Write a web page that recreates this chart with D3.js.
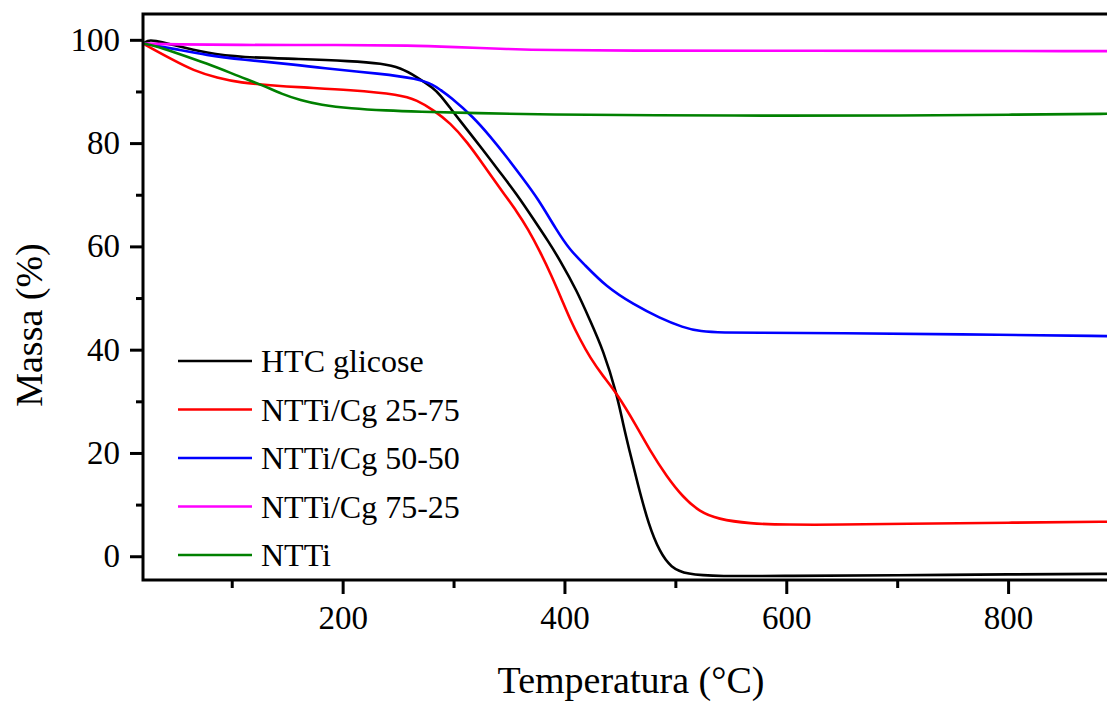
<!DOCTYPE html>
<html>
<head>
<meta charset="utf-8">
<script src="https://cdn.jsdelivr.net/npm/d3@7"></script>
<style>
	body { margin: 0; background: #fff; }
	text { font-family: "Liberation Serif", "Times New Roman", serif; }
</style>
</head>
<body>
<script>
// temperature (°C), mass (%)
var htcGlicose = [[20,99.2],[24,99.9],[30,99.9],[47,99],[78,97.4],[108,96.6],[162,96.3],[207,95.9],[236,95.4],[252,94.6],[267,92.8],[282,90.6],[288,89.3],[297,86.8],[303,85.1],[327,78.6],[342,74.3],[357,70.1],[372,65.3],[386,60.8],[396,57.3],[411,51.5],[423,45.7],[435,39.9],[447,31.6],[453,25.5],[458,21],[466,14],[476,6],[486,0.8],[496,-2.2],[510,-3.5],[538,-3.9],[600,-3.8],[700,-3.7],[800,-3.5],[900,-3.4]];
var cg2575 = [[20,99.4],[22,99],[47,96.1],[65,94.1],[87,92.6],[108,91.7],[135,91.2],[162,90.8],[207,90.3],[252,89.4],[267,88.3],[282,86.4],[297,83.9],[312,80.3],[327,75.8],[344,70.6],[357,66.8],[367,63.4],[378,59],[388,54.5],[398,49.5],[405,45.9],[414,42],[423,38.5],[435,34.8],[447,31.6],[465,25.2],[477,20.5],[492,15.5],[507,11.4],[522,8.6],[538,7.2],[567,6.3],[600,6.1],[650,6.1],[703,6.3],[800,6.5],[900,6.7]];
var cg5050 = [[20,99.3],[47,98.3],[78,97],[108,96.2],[162,95.1],[177,94.6],[236,93.4],[267,92.5],[282,91.3],[288,90.3],[297,89],[318,85],[333,81.3],[348,77.3],[362,73.3],[376,69.3],[393,63.1],[405,59.3],[417,56.7],[438,52.1],[462,48.8],[486,46.1],[507,44.3],[522,43.5],[545,43.3],[567,43.3],[650,43.2],[750,43],[900,42.6]];
var cg7525 = [[20,99.3],[50,99.1],[100,99],[200,99],[262,98.9],[300,98.6],[350,98.2],[387,98],[450,97.9],[600,97.9],[900,97.8]];
var ntti = [[20,99.3],[30,98.9],[47,97.7],[78,95.4],[108,92.8],[128,91.2],[145,89.5],[162,88.3],[180,87.4],[207,86.7],[240,86.3],[267,86.1],[320,85.8],[387,85.5],[477,85.4],[600,85.3],[703,85.3],[800,85.5],[900,85.7]];

var seriesNames = ['HTC glicose', 'NTTi/Cg 25-75', 'NTTi/Cg 50-50', 'NTTi/Cg 75-25', 'NTTi'];
var seriesData = [htcGlicose, cg2575, cg5050, cg7525, ntti];
var seriesColors = ['#000000', '#ff0000', '#0000ff', '#ff00ff', '#008000'];

var xMajor = [200, 400, 600, 800];
var xMinor = [100, 300, 500, 700, 900];
var yMajor = [0, 20, 40, 60, 80, 100];
var yMinor = [10, 30, 50, 70, 90];

var w = 1107, h = 702;
var pLeft = 143, pRight = 1119, pTop = 14, pBottom = 580;

var svg = d3.select('body')
	.append('svg')
	.attr('width', w)
	.attr('height', h);

var x = d3.scaleLinear().domain([20, 900]).range([pLeft, pRight]);
var y = d3.scaleLinear().domain([-4.6, 105]).range([pBottom, pTop]);

var line = d3.line()
	.x(function(d) { return x(d[0]); })
	.y(function(d) { return y(d[1]); })
	.curve(d3.curveBasis);

svg.append('clipPath').attr('id', 'plotclip')
	.append('rect')
	.attr('x', pLeft).attr('y', pTop)
	.attr('width', pRight - pLeft).attr('height', pBottom - pTop);

svg.append('g')
	.attr('clip-path', 'url(#plotclip)')
	.selectAll('path')
	.data(seriesData)
	.enter()
	.append('path')
	.attr('d', line)
	.attr('fill', 'none')
	.attr('stroke', function(d, i) { return seriesColors[i]; })
	.attr('stroke-width', 2.6);

// axes
var xAxis = svg.append('g')
	.attr('transform', 'translate(0,' + pBottom + ')')
	.call(d3.axisBottom(x).tickValues(xMajor).tickSize(14).tickPadding(12));
xAxis.append('g')
	.call(d3.axisBottom(x).tickValues(xMinor).tickSize(8).tickFormat(''));

var yAxis = svg.append('g')
	.attr('transform', 'translate(' + pLeft + ',0)')
	.call(d3.axisLeft(y).tickValues(yMajor).tickSize(13).tickPadding(10));
yAxis.append('g')
	.call(d3.axisLeft(y).tickValues(yMinor).tickSize(7).tickFormat(''));

svg.selectAll('.domain').remove();
svg.selectAll('.tick line').attr('stroke', '#000').attr('stroke-width', 3);
svg.selectAll('.tick text')
	.attr('fill', '#000')
	.style('font-size', '33px')
	.style('font-family', '"Liberation Serif", serif');

svg.append('rect')
	.attr('x', pLeft).attr('y', pTop)
	.attr('width', pRight - pLeft).attr('height', pBottom - pTop)
	.attr('fill', 'none')
	.attr('stroke', '#000')
	.attr('stroke-width', 3);

// titles
svg.append('text')
	.attr('x', (pLeft + pRight) / 2)
	.attr('y', 693)
	.attr('text-anchor', 'middle')
	.style('font-size', '38px')
	.text('Temperatura (°C)');

svg.append('text')
	.attr('transform', 'translate(42,' + ((pTop + pBottom) / 2 + 28) + ') rotate(-90)')
	.attr('text-anchor', 'middle')
	.style('font-size', '38px')
	.text('Massa (%)');

// legend
var legend = svg.append('g')
	.selectAll('g')
	.data(seriesNames)
	.enter()
	.append('g')
	.attr('transform', function(d, i) {
		return 'translate(0,' + (361 + i * 48.5) + ')';
	});

legend.append('line')
	.attr('x1', 178).attr('x2', 252)
	.attr('stroke', function(d, i) { return seriesColors[i]; })
	.attr('stroke-width', 2.6);

legend.append('text')
	.attr('x', 261)
	.attr('y', 11)
	.style('font-size', '32px')
	.text(function(d) { return d; });
</script>
</body>
</html>
